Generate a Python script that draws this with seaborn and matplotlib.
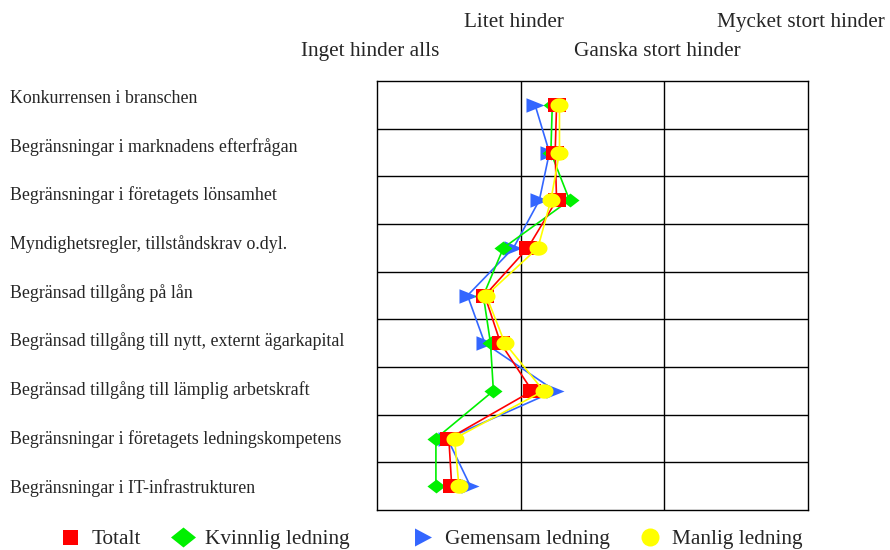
import matplotlib
matplotlib.use("Agg")
import matplotlib.pyplot as plt
import matplotlib.transforms as mtransforms
from matplotlib.lines import Line2D
from matplotlib.path import Path
import numpy as np
import pandas as pd
import seaborn as sns

categories = [
    "Konkurrensen i branschen",
    "Begränsningar i marknadens efterfrågan",
    "Begränsningar i företagets lönsamhet",
    "Myndighetsregler, tillståndskrav o.dyl.",
    "Begränsad tillgång på lån",
    "Begränsad tillgång till nytt, externt ägarkapital",
    "Begränsad tillgång till lämplig arbetskraft",
    "Begränsningar i företagets ledningskompetens",
    "Begränsningar i IT-infrastrukturen",
]
scale_labels = ["Inget hinder alls", "Litet hinder", "Ganska stort hinder", "Mycket stort hinder"]

totalt = [2.25, 2.24, 2.25, 2.05, 1.75, 1.86, 2.08, 1.50, 1.52]
kvinnlig = [2.22, 2.21, 2.34, 1.88, 1.74, 1.79, 1.81, 1.41, 1.41]
gemensam = [2.10, 2.20, 2.13, 1.95, 1.63, 1.75, 2.24, 1.49, 1.65]
manlig = [2.27, 2.27, 2.21, 2.12, 1.76, 1.89, 2.16, 1.54, 1.57]

series_names = ["Totalt", "Kvinnlig ledning", "Gemensam ledning", "Manlig ledning"]
colors = {"Totalt": "#FF0000", "Kvinnlig ledning": "#00F000",
          "Gemensam ledning": "#3366FF", "Manlig ledning": "#FFFF00"}

# wide markers (the original symbols are a bit wider than tall)
t = np.linspace(0, 2 * np.pi, 40)
ellipse = Path(np.column_stack([1.25 * np.cos(t), np.sin(t)]))
diamond = Path([(-1.3, 0), (0, 1), (1.3, 0), (0, -1), (-1.3, 0)])
rect = Path([(-1.2, -1), (1.2, -1), (1.2, 1), (-1.2, 1), (-1.2, -1)])
tri = Path([(-1.0, 0.8), (1.0, 0), (-1.0, -0.8), (-1.0, 0.8)])
markers = {"Totalt": rect, "Kvinnlig ledning": diamond,
           "Gemensam ledning": tri, "Manlig ledning": ellipse}
msize = {"Totalt": 12.5, "Kvinnlig ledning": 13, "Gemensam ledning": 13, "Manlig ledning": 13}

# legend symbols have their own proportions
leg_diamond = Path([(-1.25, 0), (0, 1), (1.25, 0), (0, -1), (-1.25, 0)])
leg_tri = Path([(-0.94, 1), (0.94, 0), (-0.94, -1), (-0.94, 1)])
leg_markers = {"Totalt": "s", "Kvinnlig ledning": leg_diamond,
               "Gemensam ledning": leg_tri, "Manlig ledning": "o"}
leg_msize = {"Totalt": 10.8, "Kvinnlig ledning": 18, "Gemensam ledning": 13, "Manlig ledning": 13}

rows = []
for name, vals in zip(series_names, [totalt, kvinnlig, gemensam, manlig]):
    for i, v in enumerate(vals):
        rows.append({"serie": name, "varde": v, "rad": i})
df = pd.DataFrame(rows)

sns.set_style("white")
plt.rcParams["font.family"] = ["Liberation Serif", "DejaVu Serif"]

fig = plt.figure(figsize=(8.9, 5.5), dpi=100)
ax = fig.add_axes([0.4236, 0.0727, 0.4843, 0.78])

draw_order = ["Gemensam ledning", "Kvinnlig ledning", "Totalt", "Manlig ledning"]
for name in draw_order:
    sub = df[df["serie"] == name]
    sns.lineplot(data=sub, x="varde", y="rad", sort=False, estimator=None,
                 color=colors[name], marker=markers[name], markersize=msize[name],
                 markeredgewidth=0, linewidth=1.2, ax=ax, legend=False)

ax.set_xlim(1, 4)
ax.set_ylim(len(categories) - 0.5, -0.5)
for y in np.arange(0.5, len(categories) - 0.5, 1):
    ax.axhline(y, color="black", linewidth=1, zorder=0)
for x in [2, 3]:
    ax.axvline(x, color="black", linewidth=1, zorder=0)
for s in ax.spines.values():
    s.set_color("black")
    s.set_linewidth(1)
ax.set_xticks([])
ax.set_yticks([])
ax.set_xlabel("")
ax.set_ylabel("")

# category labels, left aligned, own spacing
for i, c in enumerate(categories):
    fig.text(10 / 890, 1 - (103 + i * 48.7) / 550, c, ha="left", va="baseline", fontsize=12.9)

# scale labels on top, staggered
trans_x = mtransforms.blended_transform_factory(ax.transData, fig.transFigure)
label_y = [1 - 56 / 550, 1 - 27 / 550, 1 - 56 / 550, 1 - 27 / 550]
for k, (lab, yy) in enumerate(zip(scale_labels, label_y)):
    ax.text(k + 1 - 0.05, yy, lab, transform=trans_x, ha="center", va="baseline", fontsize=15.3)

# legend entries placed along the bottom
leg_x = [58.9 / 890, 172.4 / 890, 412.4 / 890, 639.4 / 890]
for name, lx in zip(series_names, leg_x):
    h = Line2D([], [], linestyle="none", marker=leg_markers[name], color=colors[name],
               markersize=leg_msize[name], markeredgewidth=0)
    fig.legend(handles=[h], labels=[name], loc="center left", bbox_to_anchor=(lx, 1 - 539 / 550),
               frameon=False, fontsize=15.3, handletextpad=0.54, handlelength=1.0,
               borderpad=0, borderaxespad=0)

fig.savefig("out.png", dpi=100)
